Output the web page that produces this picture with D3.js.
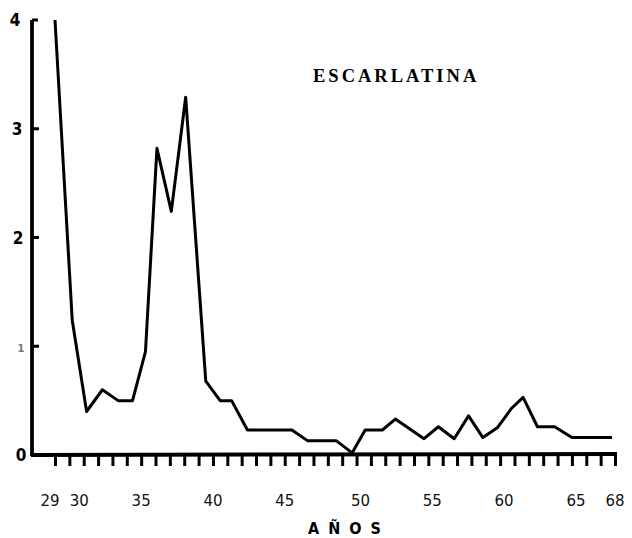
<!DOCTYPE html>
<html>
<head>
<meta charset="utf-8">
<script src="https://cdn.jsdelivr.net/npm/d3@7"></script>
<style>
  body { margin: 0; background: #fff; }
  svg { display: block; }
</style>
</head>
<body>
<div id="chart"></div>
<script>
// values (x = year, y = rate)
const years = [29.0, 30.2, 31.2, 32.3, 33.4, 34.4, 35.3, 36.1, 37.1, 38.1, 39.5, 40.5, 41.3, 42.4,
  45.5, 46.6, 48.6, 49.7, 50.6, 51.8, 52.7, 54.7, 55.7, 56.8, 57.8, 58.8, 59.8, 60.8, 61.6,
  62.6, 63.8, 65.0, 67.8];
const rates = [4.0, 1.24, 0.40, 0.60, 0.50, 0.50, 0.95, 2.82, 2.24, 3.29, 0.68, 0.50, 0.50, 0.23,
  0.23, 0.13, 0.13, 0.02, 0.23, 0.23, 0.33, 0.15, 0.26, 0.15, 0.36, 0.16, 0.25, 0.43, 0.53,
  0.26, 0.26, 0.16, 0.16];
const yTicks = [0, 1, 2, 3, 4];
const xLabels = [29, 30, 35, 40, 45, 50, 55, 60, 65, 68];
const title = "ESCARLATINA";
const xTitle = "AÑOS";

const W = 632, H = 538;
const svg = d3.select("#chart").append("svg").attr("width", W).attr("height", H);

const x = d3.scaleLinear().domain([29, 68]).range([55, 615]);
const y = d3.scaleLinear().domain([0, 4]).range([455, 20]);

// y axis
svg.append("line")
  .attr("x1", 32).attr("x2", 32)
  .attr("y1", y(4)).attr("y2", y(0) + 1)
  .attr("stroke", "#000").attr("stroke-width", 3.8);
svg.selectAll(".ytick").data(yTicks.filter(d => d > 0)).enter()
  .append("line")
  .attr("x1", 32).attr("x2", d => d === 4 ? 38 : 39)
  .attr("y1", d => y(d)).attr("y2", d => y(d))
  .attr("stroke", "#000").attr("stroke-width", 3);
svg.selectAll(".ylab").data(yTicks).enter()
  .append("text")
  .attr("x", d => d === 4 ? 15 : d === 3 ? 17 : d === 2 ? 18 : 21)
  .attr("y", d => y(d) + 6)
  .attr("text-anchor", "middle")
  .attr("font-family", "DejaVu Sans Condensed, DejaVu Sans, sans-serif")
  .attr("font-weight", "bold")
  .attr("font-size", d => d === 1 ? 11 : 17)
  .attr("fill", d => d === 1 ? "#777" : "#000")
  .text(d => d);

// x axis
svg.append("line")
  .attr("x1", 31).attr("x2", 617)
  .attr("y1", y(0)).attr("y2", y(0) - 1)
  .attr("stroke", "#000").attr("stroke-width", 4);
const xAxis = d3.axisBottom(x)
  .tickValues(d3.range(29, 69))
  .tickSize(11)
  .tickFormat("");
const gx = svg.append("g")
  .attr("transform", `translate(0, ${y(0)})`)
  .call(xAxis);
gx.select(".domain").remove();
gx.selectAll(".tick line").attr("stroke", "#000").attr("stroke-width", 3);

svg.selectAll(".xlab").data(xLabels).enter()
  .append("text")
  .attr("x", d => x(d) + (d === 29 ? -5 : d === 30 ? 10 : d >= 50 && d < 68 ? 4 : 0))
  .attr("y", 506)
  .attr("text-anchor", "middle")
  .attr("font-family", "DejaVu Sans, sans-serif")
  .attr("font-size", 15)
  .attr("fill", "#111")
  .text(d => d);

svg.append("text")
  .attr("x", 349).attr("y", 534)
  .attr("text-anchor", "middle")
  .attr("font-family", "DejaVu Sans Condensed, DejaVu Sans, sans-serif")
  .attr("font-weight", "bold")
  .attr("font-size", 16)
  .attr("letter-spacing", 9)
  .text(xTitle);

// title
svg.append("text")
  .attr("x", 313).attr("y", 82)
  .attr("font-family", "Liberation Serif, serif")
  .attr("font-weight", "bold")
  .attr("font-size", 18.5)
  .attr("letter-spacing", 3)
  .text(title);

// series line
const pts = years.map((d, i) => [d, rates[i]]);
svg.append("path")
  .datum(pts)
  .attr("fill", "none")
  .attr("stroke", "#000")
  .attr("stroke-width", 3)
  .attr("stroke-linejoin", "round")
  .attr("d", d3.line().x(d => x(d[0])).y(d => y(d[1])));
</script>
</body>
</html>
